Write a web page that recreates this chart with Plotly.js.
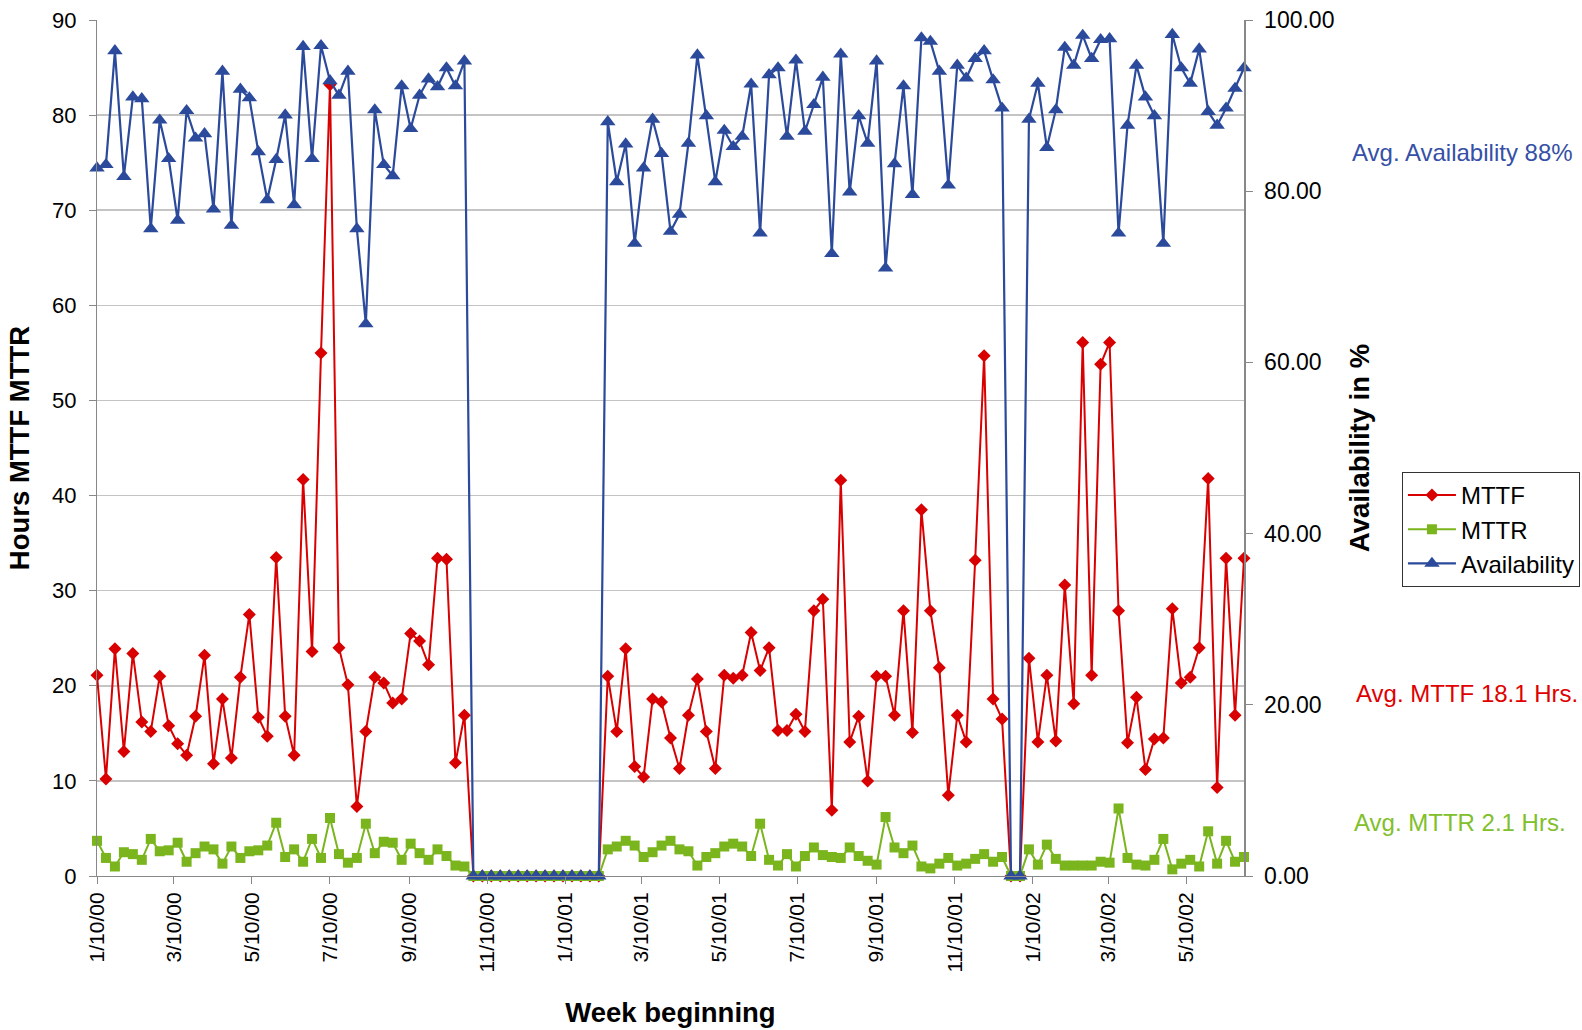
<!DOCTYPE html>
<html>
<head>
<meta charset="utf-8">
<script src="https://cdn.plot.ly/plotly-3.0.1.min.js"></script>
<style>
html,body{margin:0;padding:0;background:#fff;}
#chart{width:1582px;height:1030px;}
</style>
</head>
<body>
<div id="chart"></div>
<script>
// Week beginning: weekly from 1/10/00
const firstWeek = '2000-01-10';

const mttf = [
  21.1, 10.2, 23.9, 13.1, 23.4, 16.2, 15.2, 21.0, 15.8, 13.9, 12.7, 16.8, 23.2, 11.8, 18.6, 12.4, 20.9, 27.5, 16.7, 14.7, 33.5, 16.8,
  12.7, 41.7, 23.6, 55.0, 83.2, 24.0, 20.1, 7.3, 15.2, 20.9, 20.3, 18.2, 18.6, 25.5, 24.7, 22.2, 33.4, 33.3, 11.9, 16.9,
  0, 0, 0, 0, 0, 0, 0, 0, 0, 0, 0, 0, 0, 0, 0,
  21.0, 15.2, 23.9, 11.5, 10.4, 18.6, 18.3, 14.5, 11.3, 16.9, 20.7, 15.2, 11.3, 21.1, 20.8, 21.1, 25.6, 21.6,
  24.0, 15.3, 15.3, 17.0, 15.2, 27.9, 29.1, 6.9, 41.6, 14.1, 16.8, 10.0, 21.0, 21.0, 16.9, 27.9, 15.1, 38.5,
  27.9, 21.9, 8.5, 16.9, 14.1, 33.2, 54.7, 18.6, 16.5,
  0, 0,
  22.9, 14.1, 21.1, 14.2, 30.6, 18.1, 56.1, 21.1,
  53.8, 56.1, 27.9, 14.0, 18.8, 11.2, 14.4, 14.5, 28.1, 20.3, 20.9, 24.0, 41.8, 9.3, 33.4, 16.9, 33.4
];

const mttr = [
  3.7, 1.9, 1.0, 2.5, 2.3, 1.7, 3.9, 2.6, 2.7, 3.5, 1.5, 2.4, 3.1, 2.8, 1.3, 3.1, 1.9, 2.6, 2.7, 3.2, 5.6, 2.0,
  2.8, 1.5, 3.9, 1.9, 6.1, 2.3, 1.4, 1.9, 5.5, 2.4, 3.6, 3.5, 1.7, 3.4, 2.4, 1.7, 2.8, 2.1, 1.1, 1.0,
  0, 0, 0, 0, 0, 0, 0, 0, 0, 0, 0, 0, 0, 0, 0,
  2.8, 3.1, 3.7, 3.2, 2.0, 2.5, 3.2, 3.7, 2.8, 2.6, 1.1, 2.0, 2.4, 3.1, 3.4, 3.1, 2.1, 5.5,
  1.7, 1.1, 2.3, 1.0, 2.1, 3.0, 2.2, 2.0, 1.9, 3.0, 2.1, 1.6, 1.2, 6.2, 3.0, 2.4, 3.2, 1.0,
  0.8, 1.3, 1.9, 1.1, 1.3, 1.8, 2.3, 1.5, 2.0,
  0, 0,
  2.8, 1.2, 3.3, 1.8, 1.1, 1.1, 1.1, 1.1,
  1.5, 1.4, 7.1, 1.9, 1.2, 1.1, 1.7, 3.9, 0.7, 1.3, 1.7, 1.0, 4.7, 1.3, 3.7, 1.5, 2.0
];

const availability = [
  82.7, 83.1, 96.4, 81.7, 91.0, 90.8, 75.6, 88.3, 83.8, 76.6, 89.4, 86.2, 86.7, 77.9, 94.0, 76.0, 91.9, 90.9, 84.6, 79.0, 83.7, 88.9,
  78.4, 96.9, 83.8, 97.0, 92.9, 91.2, 94.0, 75.6, 64.5, 89.5, 83.1, 81.8, 92.3, 87.3, 91.2, 93.1, 92.2, 94.4, 92.3, 95.2,
  0, 0, 0, 0, 0, 0, 0, 0, 0, 0, 0, 0, 0, 0, 0,
  88.1, 81.1, 85.5, 73.9, 82.7, 88.4, 84.4, 75.3, 77.3, 85.6, 95.9, 88.8, 81.1, 87.1, 85.2, 86.4, 92.5, 75.1,
  93.6, 94.4, 86.4, 95.3, 87.0, 90.1, 93.3, 72.7, 96.0, 79.9, 88.8, 85.6, 95.2, 71.0, 83.2, 92.3, 79.6, 97.9,
  97.5, 94.0, 80.7, 94.7, 93.2, 95.5, 96.4, 93.0, 89.7,
  0, 0,
  88.4, 92.6, 85.1, 89.5, 96.8, 94.7, 98.2, 95.5,
  97.7, 97.8, 75.1, 87.7, 94.7, 91.0, 88.8, 73.9, 98.3, 94.4, 92.6, 96.6, 89.3, 87.7, 89.7, 92.0, 94.4
];

const tickDates = ['2000-01-10','2000-03-10','2000-05-10','2000-07-10','2000-09-10','2000-11-10',
                   '2001-01-10','2001-03-10','2001-05-10','2001-07-10','2001-09-10','2001-11-10',
                   '2002-01-10','2002-03-10','2002-05-10'];
const tickLabels = ['1/10/00','3/10/00','5/10/00','7/10/00','9/10/00','11/10/00',
                    '1/10/01','3/10/01','5/10/01','7/10/01','9/10/01','11/10/01',
                    '1/10/02','3/10/02','5/10/02'];

const avgTexts = ['Avg. Availability 88%', 'Avg. MTTF 18.1 Hrs.', 'Avg. MTTR 2.1 Hrs.'];

// build weekly dates
const weeks = [];
{
  const d0 = new Date(firstWeek + 'T00:00:00Z');
  for (let k = 0; k < availability.length; k++) {
    const d = new Date(d0.getTime() + k * 7 * 86400000);
    weeks.push(d.toISOString().slice(0, 10));
  }
}

const RED = '#d80000', GREEN = '#7ab51d', BLUE = '#2b4a9b';
const FONT = 'Arial, "Liberation Sans", sans-serif';

const traces = [
  {x: weeks, y: mttf, name: 'MTTF', type: 'scatter', mode: 'lines+markers', cliponaxis: false,
   line: {color: RED, width: 2}, marker: {symbol: 'diamond', size: 10, color: RED}},
  {x: weeks, y: mttr, name: 'MTTR', type: 'scatter', mode: 'lines+markers', cliponaxis: false,
   line: {color: GREEN, width: 2}, marker: {symbol: 'square', size: 10, color: GREEN}},
  {x: weeks, y: availability, name: 'Availability', type: 'scatter', mode: 'lines+markers', yaxis: 'y2', cliponaxis: false,
   line: {color: BLUE, width: 2.2}, marker: {symbol: 'triangle-up', size: 13.5, color: BLUE}}
];

const layout = {
  width: 1582, height: 1030,
  margin: {l: 96.5, r: 338, t: 20, b: 154, autoexpand: false},
  paper_bgcolor: '#fff', plot_bgcolor: '#fff',
  font: {family: FONT, size: 21, color: '#000'},
  showlegend: true,
  legend: {x: 1.1377, y: 0.472, xanchor: 'left', yanchor: 'top',
           bordercolor: '#333', borderwidth: 1, bgcolor: '#fff', itemwidth: 48,
           font: {family: FONT, size: 24, color: '#000'}, tracegroupgap: 0},
  xaxis: {
    type: 'date', range: [weeks[0], weeks[weeks.length - 1]],
    tickvals: tickDates, ticktext: tickLabels, tickangle: -90,
    ticks: 'outside', ticklen: 7, tickcolor: '#888', showgrid: false,
    showline: true, linecolor: '#888', linewidth: 1, zeroline: false,
    tickfont: {family: FONT, size: 21, color: '#000'},
    title: {text: 'Week beginning', font: {family: FONT, size: 27.5, color: '#000', weight: 'bold'}, standoff: 31}
  },
  yaxis: {
    range: [0, 90], dtick: 10, tick0: 0, showgrid: true, gridcolor: '#c4c4c4', gridwidth: 1.5,
    ticks: 'outside', ticklen: 7, tickcolor: '#888', showline: true, linecolor: '#888', linewidth: 1,
    ticklabelstandoff: 8,
    zeroline: false, tickfont: {family: FONT, size: 22, color: '#000'},
    title: {text: 'Hours MTTF MTTR', font: {family: FONT, size: 27.5, color: '#000', weight: 'bold'}, standoff: 14}
  },
  yaxis2: {
    range: [0, 100], dtick: 20, tick0: 0, tickformat: '.2f', overlaying: 'y', side: 'right',
    showgrid: false, ticks: 'outside', ticklen: 7, tickcolor: '#888', showline: true, linecolor: '#888', linewidth: 1.5,
    ticklabelstandoff: 7,
    zeroline: false, tickfont: {family: FONT, size: 23, color: '#000'},
    title: {text: 'Availability in %', font: {family: FONT, size: 27.5, color: '#000', weight: 'bold'}, standoff: 16}
  },
  annotations: [
    {xref: 'paper', yref: 'paper', x: 1.0924, y: 0.8448, xanchor: 'left', yanchor: 'middle', showarrow: false,
     text: avgTexts[0], font: {family: FONT, size: 24, color: '#3550a6'}},
    {xref: 'paper', yref: 'paper', x: 1.0959, y: 0.2136, xanchor: 'left', yanchor: 'middle', showarrow: false,
     text: avgTexts[1], font: {family: FONT, size: 24, color: '#e00000'}},
    {xref: 'paper', yref: 'paper', x: 1.094, y: 0.0629, xanchor: 'left', yanchor: 'middle', showarrow: false,
     text: avgTexts[2], font: {family: FONT, size: 24, color: '#80c02a'}}
  ]
};

Plotly.newPlot('chart', traces, layout, {displayModeBar: false, staticPlot: true});
</script>
</body>
</html>
